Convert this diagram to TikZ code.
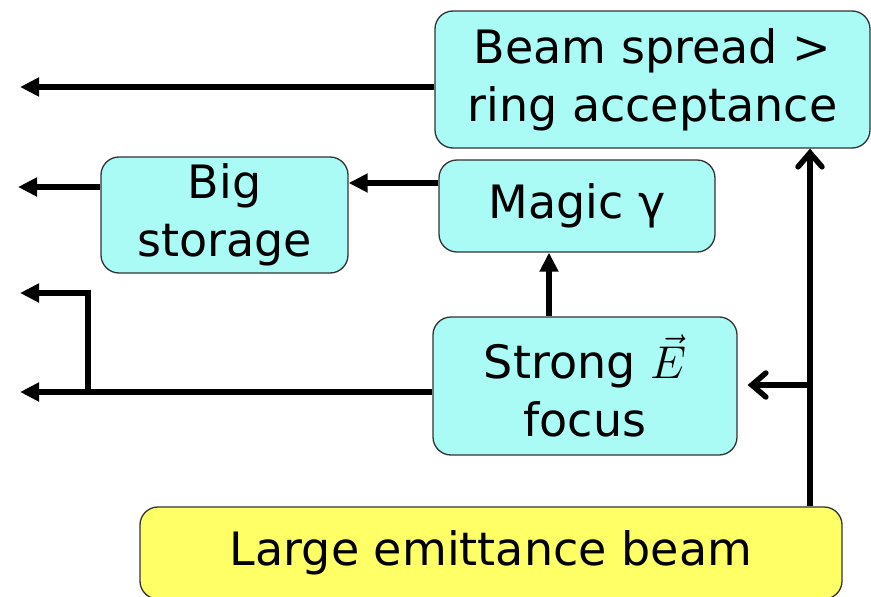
\RequirePackage{fix-cm}
\documentclass[tikz,border=0pt]{standalone}
\usepackage{fontspec}
\setmainfont{DejaVu Sans}
\usetikzlibrary{arrows.meta, positioning}
\definecolor{boxCyan}{HTML}{AAFAF5}
\definecolor{boxYellow}{HTML}{FFFF66}
\definecolor{boxEdge}{HTML}{333333}

\begin{document}
\begin{tikzpicture}[x=1pt, y=-1pt,
    every node/.style={font=\fontsize{46}{58}\selectfont},
    blockbox/.style={draw=boxEdge, line width=1.3pt, fill=boxCyan, rounded corners=18pt,
      align=center, inner sep=0pt},
    fwd/.style={line width=5.5pt, -{Triangle[length=19pt, width=18pt]}},
    feedarrow/.style={line width=5.5pt, -{Straight Barb[length=14pt, width=24pt, line cap=round]}}]
    \useasboundingbox (0,0) rectangle (871,597);
    % blocks
    \node[blockbox, minimum width=435pt, minimum height=137pt] (beam) at (652.5,79.5)
      {Beam spread >\\ring acceptance};
    \node[blockbox, minimum width=247pt, minimum height=116pt] (big) at (224.5,215)
      {Big\\storage};
    \node[blockbox, minimum width=276pt, minimum height=92pt] (magic) at (577,206)
      {Magic γ};
    \node[blockbox, minimum width=304pt, minimum height=138pt] (strong) at (585,386)
      {Strong $\vec{E}$\\focus};
    \node[blockbox, fill=boxYellow, minimum width=702pt, minimum height=92pt] (large) at (491,553)
      {Large emittance beam};
    % free ends
    \coordinate (outA) at (20,87);
    \coordinate (outB) at (18,187);
    \coordinate (outC) at (20,293);
    \coordinate (outD) at (20,392);
    \coordinate (split) at (88,392);
    \coordinate (rise) at (810,385);
    % connectors
    \draw[fwd] (beam.west |- outA) -- (outA);
    \draw[fwd] (magic.west |- 0,183) -- (big.east |- 0,183);
    \draw[fwd] (big.west |- outB) -- (outB);
    \draw[fwd] ([xshift=-36pt]strong.north) -- ([xshift=-36pt]strong.north |- magic.south);
    \draw[fwd] (strong.west |- outD) -- (outD);
    \draw[fwd] (split) -- (split |- outC) -- (outC);
    \draw[feedarrow] (large.north -| rise) -- (beam.south -| rise);
    \draw[feedarrow] (rise) -- ([xshift=10pt]strong.east |- rise);
\end{tikzpicture}
\end{document}
